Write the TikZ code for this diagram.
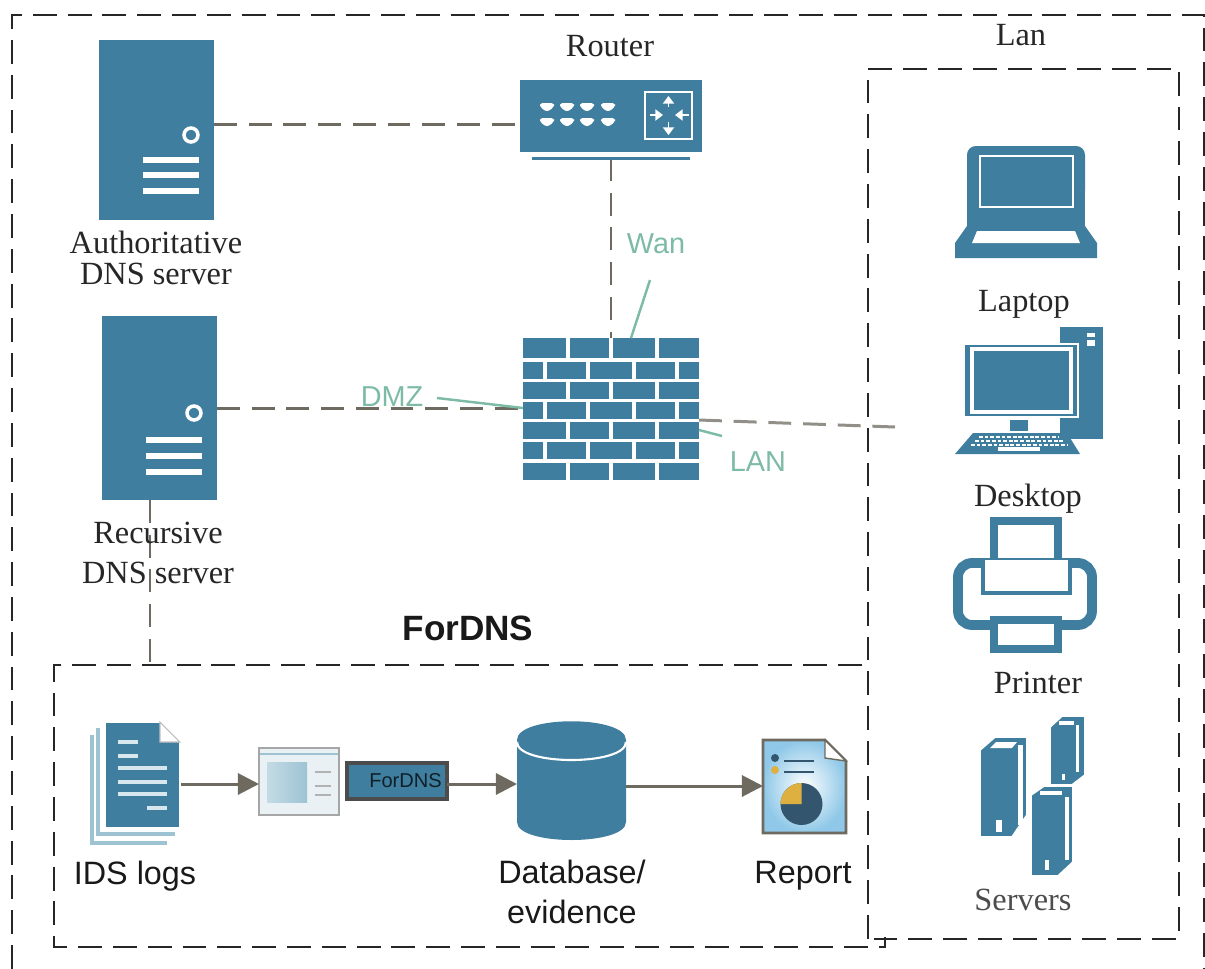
\documentclass[tikz,border=0pt]{standalone}
\usepackage{fontspec}
\setmainfont{Liberation Serif}
\setsansfont{Liberation Sans}
\usetikzlibrary{arrows.meta}
\definecolor{icon}{HTML}{3F7E9F}
\definecolor{wire}{HTML}{6E6A60}
\definecolor{note}{HTML}{7DBBA6}
\definecolor{pale}{HTML}{9DC3D3}
\definecolor{sheet}{HTML}{8FC8E8}
\definecolor{pane}{HTML}{E9F1F4}
\definecolor{pieblue}{HTML}{33566E}
\definecolor{piegold}{HTML}{DDB040}
\tikzset{
    iconbox/.style={fill=icon, inner sep=0pt, outer sep=0pt},
    frame/.style={draw=black!85, line width=0.7pt, dash pattern=on 6.8pt off 3.1pt},
    link/.style={draw=wire, line width=0.85pt, dash pattern=on 6.5pt off 3.37pt},
    flow/.style={draw=wire, line width=0.85pt, -{Triangle[length=6pt, width=6pt]}},
    callout/.style={draw=note, line width=0.7pt},
    notelabel/.style={text=note, font=\sffamily\fontsize{8.2}{10}\selectfont},
    seriflabel/.style={text=black!85, align=center, font=\fontsize{9.2}{8.8}\selectfont},
    sanslabel/.style={text=black!90, align=center, font=\sffamily\fontsize{9.2}{11.4}\selectfont},
    cutline/.style={draw=white, line width=0.9pt},
    hollow/.style={draw=icon, fill=white, line width=2.3pt}
}
\begin{document}
\begin{tikzpicture}[x=0.01cm, y=-0.01cm]
    \useasboundingbox (0, 0) rectangle (1205, 969);

    \node (authsrv) [iconbox, minimum width=1.15cm, minimum height=1.80cm] at (156.5, 130) {};
    \node (recsrv) [iconbox, minimum width=1.15cm, minimum height=1.84cm] at (159.5, 408) {};
    \node (router) [iconbox, minimum width=1.82cm, minimum height=0.72cm] at (611, 116) {};
    \node (firewall) [iconbox, minimum width=1.76cm, minimum height=1.42cm] at (611, 409) {};
    \node (evidencebox) [inner sep=0pt, minimum width=1.09cm, minimum height=1.18cm] at (571.5, 781) {};
    \node (logdoc) [inner sep=0pt, minimum width=0.75cm, minimum height=1.06cm] at (142.5, 775) {};
    \node (viewer) [draw=black!35, fill=pane, line width=0.7pt, inner sep=0pt, minimum width=0.80cm, minimum height=0.67cm] at (299, 781.5) {};
    \node (fordnsbox) [iconbox, draw=black!70, line width=0.9pt, minimum width=1.00cm, minimum height=0.36cm, text=black!75!icon, font=\sffamily\fontsize{5.7}{7}\selectfont] at (397, 781) {\hspace{0.17cm}ForDNS};
    \node (reportdoc) [inner sep=0pt, minimum width=0.83cm, minimum height=0.93cm] at (804.5, 786.5) {};

    \coordinate (authport) at (214, 124);
    \coordinate (routerport) at (520, 124);
    \coordinate (routerfoot) at (611, 158);
    \coordinate (recport) at (217, 408);
    \coordinate (fireport) at (523, 408);
    \coordinate (fireeast) at (699, 420);
    \coordinate (deskport) at (895, 427);
    \coordinate (recfoot) at (150, 500);
    \coordinate (boxtop) at (150, 665);
    \coordinate (wanend) at (650, 280);
    \coordinate (wanfoot) at (631, 338);
    \coordinate (dmzend) at (437, 398);
    \coordinate (lanend) at (722, 436);
    \coordinate (lanfoot) at (699, 430);
    \coordinate (logport) at (180, 784);
    \coordinate (viewerport) at (259, 784);
    \coordinate (fordnsport) at (447, 784);
    \coordinate (evidencein) at (517, 784);
    \coordinate (evidenceout) at (626, 786);
    \coordinate (reportport) at (763, 786);

    \draw [frame] (12, 969) -- (12, 15) -- (1204, 15) -- (1204, 969);
    \draw [frame] (862, 665) -- (54, 665) -- (54, 947) -- (885, 947) -- (885, 937);
    \draw [frame] (868, 939) -- (868, 69) -- (1179, 69) -- (1179, 939) -- (868, 939);

    \draw [link] (authport) -- (routerport);
    \draw [link] (routerfoot) -- (router.center |- firewall.north);
    \draw [link] (recport) -- (fireport);
    \draw [link, draw=wire!75] (fireeast) -- (deskport);
    \draw [link] (recfoot) -- (boxtop);
    \draw [callout] (wanend) -- (wanfoot);
    \draw [callout] (dmzend) -- (fireport);
    \draw [callout] (lanend) -- (lanfoot);
    \draw [flow] (logport) -- (viewerport);
    \draw [flow] (fordnsport) -- (evidencein);
    \draw [flow] (evidenceout) -- (reportport);

    \draw [white, line width=1pt] (191, 135) circle (7);
    \draw [white, line width=1pt] (194, 413) circle (7);
    \foreach \y in {160, 175, 191} {
        \draw [cutline, line width=1.5pt] (143, \y) -- (199, \y);
    }
    \foreach \y in {440, 456, 472} {
        \draw [cutline, line width=1.5pt] (146, \y) -- (202, \y);
    }

    \fill [icon] (532, 156.5) rectangle (690, 160);
    \foreach \x in {547, 567, 587, 608} {
        \foreach \y in {107, 122} {
            \fill [white, rounded corners=0.8pt] (\x - 7, \y - 4) -- (\x + 7, \y - 4) -- (\x + 7, \y) -- (\x, \y + 5) -- (\x - 7, \y) -- cycle;
        }
    }
    \draw [white, line width=0.7pt] (645, 92) rectangle (692, 139);
    \draw [white, line width=0.5pt, -{Triangle[length=2.2pt, width=3.2pt]}] (668.5, 107) -- (668.5, 96);
    \draw [white, line width=0.5pt, -{Triangle[length=2.2pt, width=3.2pt]}] (668.5, 122) -- (668.5, 135);
    \draw [white, line width=0.5pt, -{Triangle[length=2.2pt, width=3.2pt]}] (650, 115) -- (663, 115);
    \draw [white, line width=0.5pt, -{Triangle[length=2.2pt, width=3.2pt]}] (689, 115) -- (675, 115);

    \foreach \y in {360, 380.5, 400.5, 420.5, 440.5, 461} {
        \draw [cutline] (523, \y) -- (699, \y);
    }
    \foreach \y / \z in {338 / 360, 380.5 / 400.5, 420.5 / 440.5, 461 / 480} {
        \foreach \x in {568, 611, 657} {
            \draw [cutline] (\x, \y) -- (\x, \z);
        }
    }
    \foreach \y / \z in {360 / 380.5, 400.5 / 420.5, 440.5 / 461} {
        \foreach \x in {545, 588, 634, 677} {
            \draw [cutline] (\x, \y) -- (\x, \z);
        }
    }

    \fill [icon, rounded corners=2.5pt] (967, 200) -- (967, 146) -- (1085, 146) -- (1085, 200) -- cycle;
    \fill [icon] (967, 190) rectangle (1085, 230);
    \fill [icon] (967, 226) -- (1085, 226) -- (1097, 243) -- (1097, 258) -- (955, 258) -- (955, 243) -- cycle;
    \draw [white, line width=0.8pt] (980, 156) rectangle (1073, 207);
    \fill [white] (977, 231) -- (1075, 231) -- (1080, 243) -- (972, 243) -- cycle;

    \fill [icon] (1060, 327) rectangle (1103, 439);
    \fill [white] (1087, 333) rectangle (1095, 337);
    \fill [white] (1087, 340) rectangle (1095, 346);
    \draw [white, fill=icon, line width=0.6pt] (964, 344) rectangle (1078, 417);
    \draw [white, line width=1pt] (972, 349) rectangle (1071, 412);
    \fill [icon] (1010, 420) rectangle (1028, 431);
    \fill [icon] (973, 433) -- (1067, 433) -- (1080, 454) -- (955, 454) -- cycle;
    \foreach \y in {437, 441, 445} {
        \draw [white, line width=0.6pt, dash pattern=on 1.1pt off 0.5pt] (979 - \y * 0 + 437 - \y, \y) -- (1059 + \y - 437, \y);
    }
    \draw [white, line width=0.9pt] (998, 449) -- (1040, 449);

    \draw [hollow] (994, 562) -- (994, 521) -- (1058, 521) -- (1058, 562);
    \draw [icon, line width=2.8pt, rounded corners=4pt] (958, 625) -- (958, 563) -- (1092, 563) -- (1092, 625) -- cycle;
    \draw [icon, fill=white, line width=1.2pt] (983, 560) -- (983, 593) -- (1070, 593) -- (1070, 560);
    \draw [hollow] (994, 620) rectangle (1058, 649);

    \draw [white, fill=icon, line width=0.5pt] (1050, 727) -- (1062, 716) -- (1085, 716) -- (1085, 775) -- (1072, 785) -- (1050, 785) -- cycle;
    \fill [white] (1076, 725) rectangle (1079, 772);
    \draw [cutline] (1059, 723) -- (1074, 723);
    \fill [white] (1062, 774) rectangle (1065, 780);
    \draw [white, fill=icon, line width=0.5pt] (980, 750) -- (995, 737) -- (1027, 737) -- (1027, 815) -- (1012, 837) -- (980, 837) -- cycle;
    \fill [white] (1018, 745) rectangle (1023, 825);
    \fill [white] (990, 748) -- (996, 742) -- (1017, 742) -- (1012, 748) -- cycle;
    \fill [white] (996, 820) rectangle (1002, 832);
    \draw [white, fill=icon, line width=0.5pt] (1031, 795) -- (1044, 786) -- (1073, 786) -- (1073, 862) -- (1058, 876) -- (1031, 876) -- cycle;
    \fill [white] (1065, 797) rectangle (1069, 860);
    \draw [cutline] (1040, 793) -- (1062, 793);
    \fill [white] (1045, 860) rectangle (1049, 870);

    \draw [pale, line width=1.1pt] (92, 735) -- (92, 843) -- (167, 843);
    \draw [pale, line width=1.1pt] (98, 728) -- (98, 834) -- (175, 834);
    \draw [white, fill=icon, line width=0.5pt] (105, 722) -- (160, 722) -- (180, 742) -- (180, 828) -- (105, 828) -- cycle;
    \draw [black!25, fill=white, line width=0.3pt] (160, 722) -- (180, 742) -- (160, 742) -- cycle;
    \foreach \x / \u / \y in {118 / 138 / 742, 118 / 138 / 756, 118 / 167 / 768, 118 / 167 / 782, 118 / 167 / 794, 147 / 167 / 808} {
        \draw [pale!40, line width=1.2pt] (\x, \y) -- (\u, \y);
    }

    \draw [pale, line width=0.6pt] (260, 754) -- (338, 754);
    \fill [left color=pale!60, right color=pale] (267, 762) rectangle (307, 802);
    \foreach \y in {772, 786, 795} {
        \draw [black!30, line width=0.5pt] (315, \y) -- (331, \y);
    }

    \fill [icon] (517, 740) .. controls (517, 715) and (626, 715) .. (626, 740) -- (626, 822) .. controls (626, 846) and (517, 846) .. (517, 822) -- cycle;
    \draw [white, line width=0.6pt] (517, 742) .. controls (517, 766) and (626, 766) .. (626, 742);

    \draw [wire, line width=0.8pt, inner color=white, outer color=sheet] (763, 740) -- (825, 740) -- (846, 761) -- (846, 833) -- (763, 833) -- cycle;
    \draw [wire, fill=white, line width=0.4pt] (825, 740) -- (846, 761) -- (825, 758) -- cycle;
    \fill [pieblue] (775, 758) circle (4);
    \fill [piegold] (775, 770) circle (4);
    \draw [pieblue, line width=0.7pt] (784, 761) -- (814, 761);
    \draw [pieblue, line width=0.7pt] (784, 772) -- (814, 772);
    \fill [pieblue] (801.5, 804) circle (21);
    \fill [piegold] (801.5, 783) arc [start angle=90, end angle=180, radius=0.21cm] -- (801.5, 804) -- cycle;

    \node (routerlabel) [seriflabel] at (610, 46) {Router};
    \node (lanboxlabel) [seriflabel] at (1021, 35) {Lan};
    \node (authlabel) [seriflabel] at (156, 258) {Authoritative\\DNS server};
    \node (reclabel) [seriflabel] at (158, 553) {Recursive\\[2.6pt]DNS server};
    \node (laptoplabel) [seriflabel] at (1024, 304) {Laptop};
    \node (desktoplabel) [seriflabel] at (1028, 499) {Desktop};
    \node (printerlabel) [seriflabel] at (1038, 683) {Printer};
    \node (serverslabel) [seriflabel, text=black!70] at (1023, 900) {Servers};
    \node (wanlabel) [notelabel] at (656, 244) {Wan};
    \node (dmzlabel) [notelabel] at (392, 397) {DMZ};
    \node (lanlabel) [notelabel] at (758, 462) {LAN};
    \node (fordnslabel) [sanslabel, font=\sffamily\bfseries\fontsize{10}{12}\selectfont] at (468, 628) {ForDNS};
    \node (idslabel) [sanslabel] at (135, 876) {IDS logs};
    \node (dblabel) [sanslabel] at (572, 892) {Database/\\evidence};
    \node (reportlabel) [sanslabel] at (803, 876) {Report};
\end{tikzpicture}
\end{document}
